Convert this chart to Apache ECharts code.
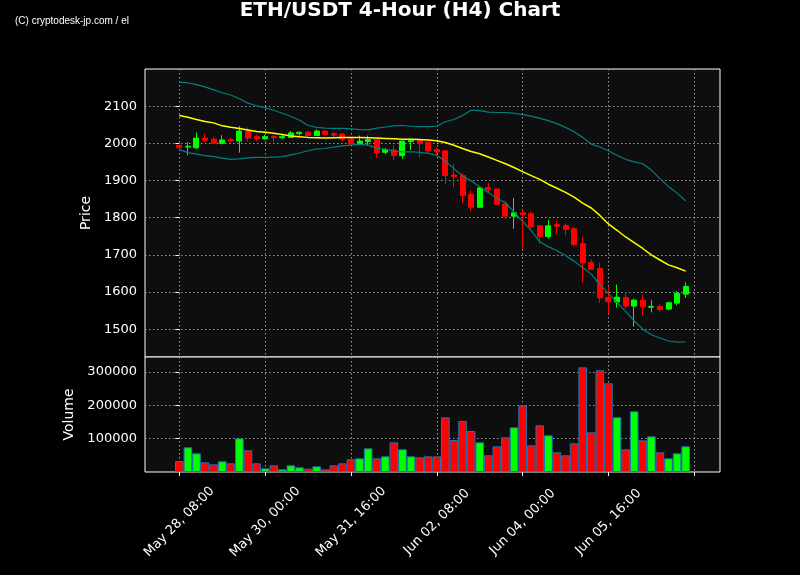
<!DOCTYPE html>
<html>
<head>
<meta charset="utf-8">
<title>ETH/USDT 4-Hour (H4) Chart</title>
<script src="https://cdn.jsdelivr.net/npm/echarts@6/dist/echarts.min.js"></script>
<style>
  html, body { margin: 0; padding: 0; background: #000; }
  #chart { width: 800px; height: 575px; }
</style>
</head>
<body>
<div id="chart"></div>
<script>
// 4h candles, index 0 = May 28 08:00
const openP = [1995, 1990, 1988, 2014, 2011, 2000, 2010, 2006, 2033, 2018,
  2012, 2019, 2015, 2016, 2026, 2030, 2021, 2033, 2026, 2025,
  2012, 1998, 2005, 2011, 1976, 1982, 1967, 2005, 2008, 2003,
  1983, 1980, 1915, 1913, 1862, 1828, 1881, 1877, 1837, 1804,
  1813, 1811, 1778, 1749, 1781, 1779, 1770, 1730, 1679, 1663,
  1585, 1573, 1585, 1562, 1578, 1559, 1561, 1554, 1570, 1594];
const closeP = [1988, 1992, 2014, 2008, 2000, 2009, 2007, 2033, 2014, 2012,
  2018, 2016, 2018, 2028, 2030, 2021, 2033, 2024, 2022, 2011,
  1998, 2006, 2010, 1974, 1983, 1967, 2006, 2008, 1999, 1980,
  1977, 1913, 1911, 1860, 1828, 1880, 1875, 1836, 1804, 1813,
  1808, 1775, 1749, 1778, 1777, 1768, 1728, 1678, 1661, 1584,
  1574, 1586, 1562, 1578, 1560, 1561, 1553, 1571, 1596, 1615];
const lowP = [1987, 1968, 1984, 2003, 1997, 1997, 2002, 1975, 2005, 2005,
  2009, 2003, 2011, 2016, 2021, 2019, 2020, 2021, 2016, 2005,
  1996, 1995, 1993, 1961, 1971, 1955, 1958, 1982, 1962, 1972,
  1966, 1889, 1882, 1839, 1818, 1827, 1868, 1835, 1796, 1770,
  1717, 1770, 1730, 1744, 1755, 1753, 1722, 1625, 1660, 1571,
  1542, 1558, 1555, 1507, 1537, 1545, 1547, 1551, 1564, 1584];
const highP = [1996, 2003, 2029, 2025, 2016, 2022, 2016, 2046, 2043, 2023,
  2023, 2024, 2023, 2033, 2030, 2033, 2038, 2036, 2031, 2027,
  2012, 2021, 2021, 2011, 1988, 1995, 2007, 2012, 2009, 2004,
  1989, 1981, 1944, 1920, 1873, 1885, 1893, 1879, 1846, 1853,
  1821, 1817, 1780, 1794, 1792, 1784, 1775, 1748, 1688, 1679,
  1614, 1620, 1600, 1582, 1593, 1578, 1566, 1573, 1602, 1626];
const volume = [33000, 74000, 56000, 29000, 23000, 32000, 26000, 101000, 65000, 26000,
  11000, 20000, 8000, 20000, 14000, 10000, 17000, 8000, 20000, 26000,
  38000, 41000, 71000, 41000, 47000, 89000, 68000, 47000, 44000, 47000,
  47000, 164000, 96000, 153000, 123000, 89000, 50000, 77000, 104000, 134000,
  200000, 80000, 140000, 110000, 59000, 50000, 86000, 314000, 119000, 305000,
  266000, 164000, 68000, 182000, 95000, 107000, 59000, 41000, 56000, 77000];
// moving average and bollinger bands
const sma = [2075, 2070, 2064, 2059, 2055, 2047, 2043, 2040, 2036, 2032,
  2030, 2027, 2024, 2020, 2018, 2016, 2015, 2014, 2015, 2016,
  2016, 2016, 2015, 2014, 2013, 2012, 2011, 2011, 2010, 2009,
  2007, 2002, 1995, 1986, 1978, 1972, 1963, 1954, 1945, 1935,
  1924, 1913, 1903, 1890, 1879, 1868, 1855, 1839, 1826, 1806,
  1783, 1766, 1748, 1733, 1717, 1700, 1686, 1673, 1665, 1656];
const upperBand = [2164, 2163, 2158, 2152, 2144, 2136, 2130, 2120, 2108, 2101,
  2096, 2089, 2081, 2073, 2062, 2048, 2043, 2041, 2040, 2040,
  2039, 2037, 2036, 2041, 2044, 2047, 2048, 2046, 2045, 2045,
  2046, 2058, 2064, 2075, 2089, 2088, 2084, 2083, 2083, 2081,
  2077, 2073, 2067, 2061, 2053, 2043, 2031, 2016, 1998, 1990,
  1980, 1968, 1957, 1950, 1945, 1928, 1905, 1884, 1866, 1845];
const lowerBand = [1983, 1975, 1971, 1967, 1964, 1960, 1957, 1958, 1961, 1962,
  1962, 1963, 1964, 1969, 1974, 1980, 1985, 1986, 1990, 1993,
  1995, 1997, 1995, 1987, 1984, 1979, 1977, 1977, 1976, 1973,
  1968, 1952, 1932, 1912, 1899, 1883, 1868, 1852, 1840, 1815,
  1790, 1765, 1735, 1722, 1711, 1698, 1683, 1666, 1648, 1620,
  1596, 1572, 1548, 1522, 1500, 1485, 1476, 1468, 1465, 1466];
const timeTicks = [0, 10, 20, 30, 40, 50, 60];
const timeLabels = ['May 28, 08:00', 'May 30, 00:00', 'May 31, 16:00',
  'Jun 02, 08:00', 'Jun 04, 00:00', 'Jun 05, 16:00'];
const priceTicks = [1500, 1600, 1700, 1800, 1900, 2000, 2100];
const volumeTicks = [100000, 200000, 300000];

const UP = '#00ff00';
const DOWN = '#ff0000';
const FONT = 'DejaVu Sans';

const candleData = openP.map((o, i) => [i, o, closeP[i], lowP[i], highP[i]]);
const volData = volume.map((v, i) => ({
  value: [i, v],
  itemStyle: { color: closeP[i] >= openP[i] ? UP : DOWN }
}));
const line = arr => arr.map((v, i) => [i, v]);

const gridLine = { show: true, lineStyle: { color: '#9a9a9a', type: [1.5, 2.5], width: 1 } };
const plain = v => String(v);

const chart = echarts.init(document.getElementById('chart'));
chart.setOption({
  backgroundColor: '#000',
  animation: false,
  title: [
    {
      text: 'ETH/USDT 4-Hour (H4) Chart',
      left: 'center', top: 1, padding: 0,
      textStyle: { color: '#fff', fontFamily: FONT, fontWeight: 'bold', fontSize: 20 }
    },
    {
      text: '(C) cryptodesk-jp.com / el',
      left: 15, top: 16, padding: 0,
      textStyle: { color: '#fff', fontFamily: 'Liberation Sans', fontWeight: 'normal', fontSize: 10 }
    }
  ],
  grid: [
    { left: 145, top: 69, width: 575, height: 288, show: true, backgroundColor: '#0e0e0e', borderColor: '#fff', borderWidth: 1 },
    { left: 145, top: 357, width: 575, height: 115, show: true, backgroundColor: '#0e0e0e', borderColor: '#fff', borderWidth: 1 }
  ],
  xAxis: [
    {
      type: 'value', gridIndex: 0, min: -4, max: 63,
      axisLine: { show: false }, axisLabel: { show: false },
      axisTick: { show: false, customValues: timeTicks },
      splitLine: gridLine
    },
    {
      type: 'value', gridIndex: 1, min: -4, max: 63,
      axisLine: { show: false },
      axisTick: { show: true, customValues: timeTicks, length: 4, lineStyle: { color: '#fff' } },
      axisLabel: {
        customValues: timeTicks.slice(0, 6), rotate: 45, margin: 50,
        align: 'center', verticalAlign: 'middle',
        color: '#fff', fontFamily: FONT, fontSize: 13,
        formatter: v => timeLabels[timeTicks.indexOf(v)] || ''
      },
      splitLine: gridLine
    }
  ],
  yAxis: [
    {
      type: 'value', gridIndex: 0, min: 1425, max: 2200,
      name: 'Price', nameLocation: 'middle', nameGap: 47,
      nameTextStyle: { color: '#fff', fontFamily: FONT, fontSize: 14 },
      axisLine: { show: false },
      axisTick: { show: true, customValues: priceTicks, length: 4, lineStyle: { color: '#fff' } },
      axisLabel: { customValues: priceTicks, color: '#fff', fontFamily: FONT, fontSize: 13, margin: 8, formatter: plain },
      splitLine: gridLine
    },
    {
      type: 'value', gridIndex: 1, min: 0, max: 345000,
      name: 'Volume', nameLocation: 'middle', nameGap: 67,
      nameTextStyle: { color: '#fff', fontFamily: FONT, fontSize: 14 },
      axisLine: { show: false },
      axisTick: { show: true, customValues: volumeTicks, length: 4, lineStyle: { color: '#fff' } },
      axisLabel: { customValues: volumeTicks, color: '#fff', fontFamily: FONT, fontSize: 13, margin: 8, formatter: plain },
      splitLine: gridLine
    }
  ],
  series: [
    {
      type: 'candlestick', xAxisIndex: 0, yAxisIndex: 0,
      data: candleData, encode: { x: 0, y: [1, 2, 3, 4] },
      barWidth: 5.5,
      itemStyle: { color: UP, color0: DOWN, borderColor: UP, borderColor0: DOWN, borderWidth: 1 }
    },
    {
      type: 'line', xAxisIndex: 0, yAxisIndex: 0, data: line(sma),
      showSymbol: false, lineStyle: { color: '#ffff00', width: 1.5 }
    },
    {
      type: 'line', xAxisIndex: 0, yAxisIndex: 0, data: line(upperBand),
      showSymbol: false, lineStyle: { color: '#008080', width: 1.2 }
    },
    {
      type: 'line', xAxisIndex: 0, yAxisIndex: 0, data: line(lowerBand),
      showSymbol: false, lineStyle: { color: '#008080', width: 1.2 }
    },
    {
      type: 'bar', xAxisIndex: 1, yAxisIndex: 1, data: volData,
      barWidth: 8.6,
      itemStyle: { borderColor: '#1f77b4', borderWidth: 1 }
    }
  ]
});
</script>
</body>
</html>
